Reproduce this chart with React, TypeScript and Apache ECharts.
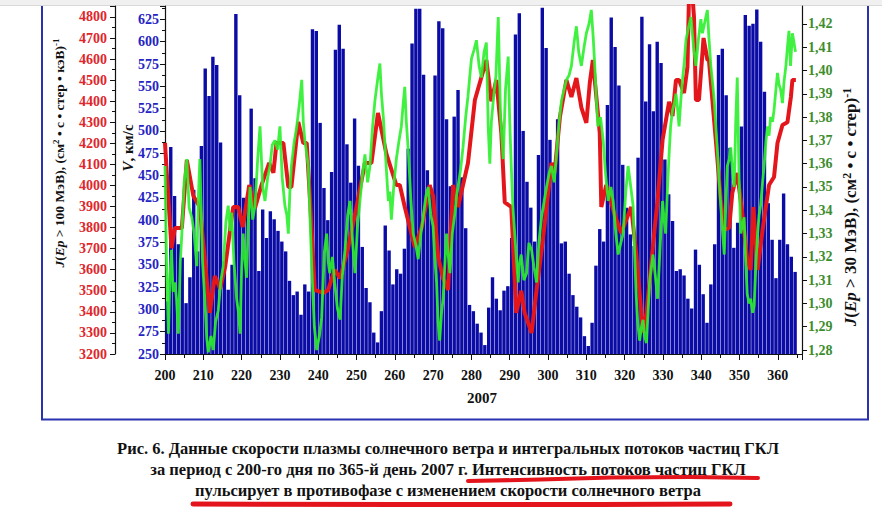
import React, { useEffect, useRef } from "react";
import * as echarts from "echarts";

// Solar wind speed V (km/s), one bar per day starting at day 200
const startDay = 200;
const windSpeed = [
  309, 482, 427, 373, 358, 307, 336, 434, 365, 483,
  570, 539, 583, 574, 487, 354, 322, 350, 631, 540,
  425, 426, 525, 447, 343, 412, 380, 410, 401, 388,
  376, 365, 332, 316, 320, 294, 328, 320, 614, 612,
  509, 436, 400, 454, 591, 619, 592, 485, 442, 514,
  461, 370, 324, 308, 274, 263, 298, 394, 366, 328,
  345, 340, 368, 480, 598, 637, 637, 563, 456, 430,
  562, 623, 615, 513, 438, 516, 546, 448, 391, 305,
  298, 284, 274, 260, 302, 336, 312, 299, 321, 326,
  380, 608, 632, 500, 443, 414, 376, 473, 638, 593,
  490, 464, 513, 374, 376, 340, 316, 303, 291, 270,
  259, 285, 349, 390, 376, 529, 627, 594, 551, 462,
  414, 384, 371, 470, 628, 533, 597, 522, 600, 576,
  468, 429, 399, 343, 345, 338, 312, 301, 367, 350,
  317, 285, 328, 373, 585, 592, 540, 481, 369, 397,
  505, 630, 618, 620, 636, 600, 544, 419, 378, 335,
  378, 430, 373, 359, 342,
];

// J(Ep > 100 MeV) — [day, value]
const fluxHigh: [number, number][] = [
  [200.0, 4202], [200.6, 4020], [201.7, 3703], [202.6, 3798], [204.4, 3798], [205.7, 4121],
  [207.4, 3950], [209.1, 3898], [211.7, 3395], [213.0, 3570], [214.4, 3510], [215.7, 3613],
  [217.8, 3898], [219.1, 3898], [220.3, 3803], [222.0, 4002], [223.5, 3893], [225.2, 4002],
  [227.2, 4107], [228.3, 4060], [229.1, 4202], [230.9, 4202], [232.2, 3993], [233.0, 3993],
  [234.8, 4302], [236.1, 4202], [237.0, 4202], [237.8, 3950], [239.1, 3504], [241.3, 3490],
  [242.6, 3504], [244.3, 3600], [245.7, 3560], [247.8, 3703], [250.0, 3898], [252.2, 4107],
  [253.9, 4107], [255.6, 4344], [257.8, 4150], [260.4, 4002], [261.3, 4002], [262.6, 3898],
  [265.2, 3708], [267.0, 3800], [269.1, 4002], [270.0, 3950], [271.3, 3661], [272.6, 3560],
  [273.9, 3504], [275.2, 4002], [276.5, 3898], [279.1, 4107], [280.9, 4406], [283.9, 4596],
  [285.2, 4400], [286.5, 4501], [287.8, 4250], [288.7, 3920], [290.4, 3898], [291.7, 3395],
  [293.0, 3500], [293.9, 3395], [295.7, 3300], [297.0, 3504], [298.7, 3750], [300.9, 4107],
  [301.7, 4060], [303.1, 4325], [304.8, 4501], [306.1, 4420], [307.4, 4510], [308.7, 4370],
  [310.0, 4297], [310.9, 4487], [311.7, 4596], [313.5, 4249], [313.9, 3898], [315.2, 4002],
  [317.4, 3860], [319.1, 3774], [321.7, 3898], [323.0, 3680], [324.8, 3300], [325.7, 3395],
  [327.8, 3789], [328.6, 3931], [329.9, 4216], [331.6, 4397], [332.5, 4330], [333.4, 4501],
  [334.2, 4501], [335.5, 4439], [336.4, 4563], [336.8, 4900], [337.7, 4900], [338.1, 4800],
  [338.6, 4406], [339.4, 4406], [340.6, 4700], [341.6, 4596], [342.0, 4596], [343.8, 4216],
  [345.1, 3931], [346.0, 3789], [347.3, 3800], [348.1, 3964], [349.4, 4059], [350.7, 3869],
  [352.0, 3646], [352.9, 3599], [353.6, 3898], [354.7, 3599], [356.0, 3789], [357.7, 4002],
  [359.0, 4040], [359.9, 4202], [361.2, 4287], [362.5, 4300], [363.4, 4420], [363.8, 4501],
  [364.7, 4501],
];

// J(Ep > 30 MeV) — [day, value]
const fluxLow: [number, number][] = [
  [200.0, 1.359], [200.4, 1.318], [200.9, 1.287], [201.3, 1.312], [201.7, 1.323], [202.1, 1.305],
  [202.6, 1.309], [203.0, 1.302], [203.5, 1.287], [204.0, 1.318], [204.4, 1.330], [205.0, 1.352],
  [205.7, 1.362], [206.3, 1.341], [207.0, 1.337], [207.6, 1.330], [208.3, 1.316], [208.7, 1.345],
  [209.1, 1.362], [209.8, 1.318], [210.4, 1.302], [210.9, 1.285], [211.3, 1.279], [212.0, 1.286],
  [212.6, 1.280], [213.2, 1.292], [213.9, 1.297], [214.6, 1.310], [215.2, 1.316], [215.9, 1.335],
  [216.5, 1.342], [217.0, 1.331], [217.4, 1.339], [218.0, 1.318], [218.7, 1.302], [219.2, 1.296],
  [219.6, 1.287], [220.0, 1.315], [220.4, 1.330], [220.9, 1.318], [221.3, 1.311], [221.8, 1.338],
  [222.2, 1.350], [222.9, 1.336], [223.5, 1.342], [224.2, 1.362], [224.8, 1.376], [225.5, 1.350],
  [226.1, 1.344], [226.8, 1.354], [227.4, 1.359], [228.0, 1.368], [228.7, 1.370], [229.4, 1.366],
  [230.0, 1.376], [230.6, 1.354], [231.3, 1.342], [231.8, 1.338], [232.2, 1.330], [232.6, 1.348],
  [233.0, 1.359], [233.7, 1.369], [234.4, 1.376], [235.1, 1.386], [235.7, 1.396], [236.1, 1.378],
  [236.5, 1.370], [237.0, 1.364], [237.4, 1.359], [237.9, 1.335], [238.3, 1.316], [239.0, 1.290],
  [239.6, 1.280], [240.3, 1.286], [240.9, 1.294], [241.6, 1.322], [242.2, 1.330], [242.6, 1.318],
  [243.0, 1.313], [243.7, 1.320], [244.3, 1.309], [245.0, 1.298], [245.7, 1.293], [246.3, 1.312],
  [247.0, 1.323], [247.7, 1.338], [248.3, 1.344], [249.0, 1.326], [249.6, 1.313], [250.3, 1.334],
  [250.9, 1.344], [251.6, 1.356], [252.2, 1.364], [252.9, 1.352], [253.5, 1.359], [254.2, 1.376],
  [254.8, 1.387], [255.5, 1.396], [256.1, 1.403], [256.5, 1.390], [257.0, 1.380], [257.7, 1.360],
  [258.3, 1.344], [258.7, 1.348], [259.1, 1.336], [259.8, 1.352], [260.4, 1.362], [261.1, 1.370],
  [261.7, 1.376], [262.2, 1.386], [262.6, 1.393], [263.0, 1.378], [263.5, 1.366], [264.2, 1.344],
  [264.8, 1.330], [265.5, 1.325], [266.1, 1.319], [266.8, 1.330], [267.4, 1.337], [268.1, 1.346],
  [268.7, 1.350], [269.4, 1.338], [270.0, 1.333], [270.5, 1.318], [270.9, 1.309], [271.3, 1.292],
  [271.7, 1.284], [272.2, 1.296], [272.6, 1.302], [273.1, 1.318], [273.5, 1.330], [274.0, 1.320],
  [274.4, 1.313], [275.0, 1.330], [275.7, 1.339], [276.1, 1.346], [276.5, 1.350], [277.2, 1.358],
  [277.8, 1.367], [278.5, 1.380], [279.1, 1.389], [279.6, 1.398], [280.0, 1.405], [280.7, 1.409],
  [281.3, 1.413], [282.0, 1.402], [282.6, 1.397], [283.3, 1.408], [283.9, 1.412], [284.4, 1.375],
  [284.8, 1.360], [285.2, 1.378], [285.7, 1.387], [286.4, 1.398], [287.0, 1.423], [287.6, 1.380],
  [288.3, 1.362], [288.9, 1.392], [289.6, 1.406], [290.0, 1.378], [290.4, 1.359], [290.8, 1.342],
  [291.3, 1.330], [291.8, 1.318], [292.2, 1.309], [292.6, 1.318], [293.0, 1.321], [293.7, 1.310],
  [294.4, 1.313], [295.0, 1.326], [295.7, 1.323], [296.3, 1.316], [297.0, 1.309], [297.6, 1.326],
  [298.3, 1.337], [299.0, 1.344], [299.6, 1.350], [300.3, 1.356], [300.9, 1.359], [301.6, 1.352],
  [302.2, 1.364], [302.9, 1.378], [303.5, 1.387], [304.2, 1.392], [304.8, 1.396], [305.5, 1.398],
  [306.1, 1.402], [306.8, 1.412], [307.4, 1.419], [308.0, 1.408], [308.7, 1.402], [309.4, 1.410],
  [310.0, 1.416], [310.7, 1.420], [311.3, 1.426], [311.8, 1.414], [312.2, 1.402], [312.6, 1.388],
  [313.0, 1.376], [313.7, 1.380], [314.4, 1.370], [315.0, 1.356], [315.7, 1.344], [316.4, 1.350],
  [317.0, 1.344], [317.7, 1.330], [318.3, 1.321], [319.0, 1.326], [319.6, 1.330], [320.3, 1.348],
  [320.9, 1.359], [321.6, 1.350], [322.2, 1.342], [322.6, 1.322], [323.0, 1.304], [323.4, 1.292],
  [323.9, 1.284], [324.4, 1.290], [324.8, 1.293], [325.2, 1.286], [325.7, 1.283], [326.1, 1.296],
  [326.5, 1.309], [327.0, 1.316], [327.4, 1.321], [328.0, 1.312], [328.6, 1.302], [329.3, 1.326],
  [329.9, 1.344], [330.3, 1.336], [330.7, 1.330], [331.2, 1.350], [331.6, 1.364], [332.0, 1.376],
  [332.5, 1.383], [333.0, 1.386], [333.4, 1.390], [333.8, 1.384], [334.2, 1.376], [334.7, 1.388],
  [335.1, 1.396], [335.6, 1.404], [336.0, 1.413], [336.6, 1.418], [337.3, 1.423], [338.0, 1.410],
  [338.6, 1.402], [339.3, 1.414], [339.9, 1.422], [340.3, 1.416], [340.7, 1.419], [341.2, 1.423],
  [341.6, 1.426], [342.0, 1.414], [342.5, 1.402], [343.0, 1.394], [343.4, 1.387], [343.8, 1.376],
  [344.2, 1.366], [344.7, 1.352], [345.1, 1.342], [345.6, 1.330], [346.0, 1.321], [346.4, 1.342],
  [346.8, 1.359], [347.3, 1.362], [347.7, 1.367], [348.2, 1.356], [348.6, 1.350], [349.0, 1.378],
  [349.4, 1.397], [349.9, 1.352], [350.3, 1.330], [350.8, 1.334], [351.2, 1.337], [351.6, 1.318],
  [352.0, 1.304], [352.5, 1.300], [352.9, 1.302], [353.4, 1.296], [353.8, 1.299], [354.3, 1.318],
  [354.7, 1.330], [355.1, 1.338], [355.5, 1.342], [356.0, 1.352], [356.4, 1.359], [356.9, 1.370],
  [357.3, 1.376], [357.7, 1.372], [358.1, 1.380], [358.6, 1.378], [359.0, 1.383], [359.5, 1.392],
  [359.9, 1.399], [360.3, 1.394], [360.7, 1.392], [361.2, 1.386], [361.6, 1.395], [362.1, 1.402],
  [362.5, 1.410], [362.9, 1.417], [363.3, 1.402], [363.8, 1.416], [364.2, 1.412], [364.6, 1.408],
];

const lowFluxTicks = [1.28, 1.29, 1.3, 1.31, 1.32, 1.33, 1.34, 1.35, 1.36, 1.37, 1.38, 1.39, 1.4, 1.41, 1.42];

const captionLines = [
  "Рис. 6. Данные скорости плазмы солнечного ветра и интегральных потоков частиц ГКЛ",
  "за период с 200-го дня по 365-й день 2007 г. Интенсивность потоков частиц ГКЛ",
  "пульсирует в противофазе с изменением скорости солнечного ветра",
];

const SERIF = '"Liberation Serif", "Times New Roman", serif';

const tok = (size: number, extra: any = {}) => ({
  fontFamily: SERIF,
  fontSize: size,
  fontWeight: "bold",
  fill: "#111",
  ...extra,
});

const richFor = (size: number) => ({
  n: tok(size),
  i: tok(size, { fontStyle: "italic" }),
  s: tok(Math.round(size * 0.68), { verticalAlign: "top", padding: [0, 0, 6, 0] }),
});

export default function App() {
  const ref = useRef<HTMLDivElement>(null);

  useEffect(() => {
    const chart = echarts.init(ref.current!, null, { renderer: "svg" });
    const isMult = (v: number, step: number) => Math.abs(v / step - Math.round(v / step)) < 1e-6;

    const option: any = {
      animation: false,
      backgroundColor: "#ffffff",
      textStyle: { fontFamily: SERIF },
      grid: { left: 165, right: 80, top: 6, bottom: 174 },
      xAxis: {
        type: "value",
        min: 200,
        max: 366.3,
        interval: 10,
        axisLine: { show: true, lineStyle: { color: "#111", width: 1.2 } },
        axisTick: { show: true, length: 6, lineStyle: { color: "#111" } },
        minorTick: { show: true, splitNumber: 2, length: 4, lineStyle: { color: "#111" } },
        splitLine: { show: false },
        axisLabel: {
          margin: 14,
          color: "#111",
          fontFamily: SERIF,
          fontWeight: "bold",
          fontSize: 14,
          formatter: (v: number) => (isMult(v, 10) ? String(Math.round(v)) : ""),
        },
      },
      yAxis: [
        {
          type: "value",
          position: "left",
          offset: 50,
          min: 3200,
          max: 4852,
          interval: 100,
          axisLine: { show: true, lineStyle: { color: "#111", width: 1.2 } },
          axisTick: { show: true, length: 5, lineStyle: { color: "#111" } },
          minorTick: { show: true, splitNumber: 2, length: 3, lineStyle: { color: "#111" } },
          splitLine: { show: false },
          axisLabel: {
            margin: 8,
            color: "#e0262a",
            fontFamily: SERIF,
            fontWeight: "bold",
            fontSize: 14,
            formatter: (v: number) => (isMult(v, 100) ? String(Math.round(v)) : ""),
          },
        },
        {
          type: "value",
          position: "left",
          offset: 0,
          min: 250,
          max: 640,
          interval: 25,
          axisLine: { show: true, lineStyle: { color: "#111", width: 1.2 } },
          axisTick: { show: true, length: 5, lineStyle: { color: "#111" } },
          minorTick: { show: true, splitNumber: 2, length: 3, lineStyle: { color: "#111" } },
          splitLine: { show: false },
          axisLabel: {
            margin: 6,
            color: "#2424c4",
            fontFamily: SERIF,
            fontWeight: "bold",
            fontSize: 14,
            formatter: (v: number) => (isMult(v, 25) ? String(Math.round(v)) : ""),
          },
        },
        {
          type: "value",
          position: "right",
          offset: 0,
          min: 1.2783,
          max: 1.4277,
          axisLine: { show: true, lineStyle: { color: "#111", width: 1.2 } },
          axisTick: { show: true, length: 5, customValues: lowFluxTicks, lineStyle: { color: "#111" } },
          splitLine: { show: false },
          axisLabel: {
            margin: 6,
            color: "#3d8d2e",
            fontFamily: SERIF,
            fontWeight: "bold",
            fontSize: 14,
            customValues: lowFluxTicks,
            formatter: (v: number) => v.toFixed(2).replace(".", ","),
          },
        },
      ],
      series: [
        {
          type: "bar",
          xAxisIndex: 0,
          yAxisIndex: 1,
          barWidth: 3.4,
          itemStyle: { color: "#0b0ba5" },
          data: windSpeed.map((v, i) => [startDay + i + 0.5, v]),
          z: 1,
        },
        {
          type: "line",
          xAxisIndex: 0,
          yAxisIndex: 0,
          showSymbol: false,
          lineStyle: { color: "#e3171b", width: 4 },
          data: fluxHigh,
          z: 3,
        },
        {
          type: "line",
          xAxisIndex: 0,
          yAxisIndex: 2,
          showSymbol: false,
          lineStyle: { color: "#2cf02c", width: 2.8, opacity: 0.9 },
          data: fluxLow,
          z: 4,
        },
      ],
      graphic: [
        { type: "rect", shape: { x: 0, y: 0, width: 882, height: 5 }, style: { fill: "#f0f0f0" }, silent: true },
        { type: "line", shape: { x1: 0, y1: 5.5, x2: 882, y2: 5.5 }, style: { stroke: "#d9d9d9", lineWidth: 1 }, silent: true },
        {
          type: "polyline",
          shape: { points: [[42, 6], [42, 419.5], [868, 419.5], [868, 6]] },
          style: { stroke: "#2a32b0", lineWidth: 2, fill: null },
          silent: true,
        },
        {
          type: "text",
          x: 59,
          y: 153,
          rotation: Math.PI / 2,
          style: {
            text: "{i|J}{n|(}{i|Ep}{n| > 100 МэВ), (см}{s|2}{n| • с • стер • кэВ)}{s|-1}",
            rich: richFor(13.5),
            align: "center",
            verticalAlign: "middle",
          },
          silent: true,
        },
        {
          type: "text",
          x: 128,
          y: 148,
          rotation: Math.PI / 2,
          style: {
            text: "{i|V}{n|, км/с}",
            rich: richFor(15),
            align: "center",
            verticalAlign: "middle",
          },
          silent: true,
        },
        {
          type: "text",
          x: 850,
          y: 207,
          rotation: Math.PI / 2,
          style: {
            text: "{i|J}{n|(}{i|Ep}{n| > 30 МэВ), (см}{s|2}{n| • с • стер)}{s|-1}",
            rich: richFor(17),
            align: "center",
            verticalAlign: "middle",
          },
          silent: true,
        },
        {
          type: "text",
          x: 482,
          y: 398,
          style: { text: "2007", align: "center", verticalAlign: "middle", ...tok(15) },
          silent: true,
        },
        ...captionLines.map((t, i) => ({
          type: "text",
          x: 448,
          y: 448 + i * 21,
          style: { text: t, align: "center", verticalAlign: "middle", ...tok(16.5) },
          silent: true,
        })),
        {
          type: "polyline",
          shape: { points: [[468, 481], [540, 479.5], [612, 477.5], [690, 477], [758, 478]] },
          style: { stroke: "#e3141b", lineWidth: 4, lineCap: "round", lineJoin: "round", fill: null },
          silent: true,
        },
        {
          type: "polyline",
          shape: { points: [[193, 504], [400, 504.5], [600, 504.5], [730, 504]] },
          style: { stroke: "#e3141b", lineWidth: 5, lineCap: "round", lineJoin: "round", fill: null },
          silent: true,
        },
      ],
    };

    chart.setOption(option);
    return () => chart.dispose();
  }, []);

  return (
    <div
      ref={ref}
      style={{ position: "fixed", left: 0, top: 0, width: 882, height: 528, background: "#fff" }}
    />
  );
}
